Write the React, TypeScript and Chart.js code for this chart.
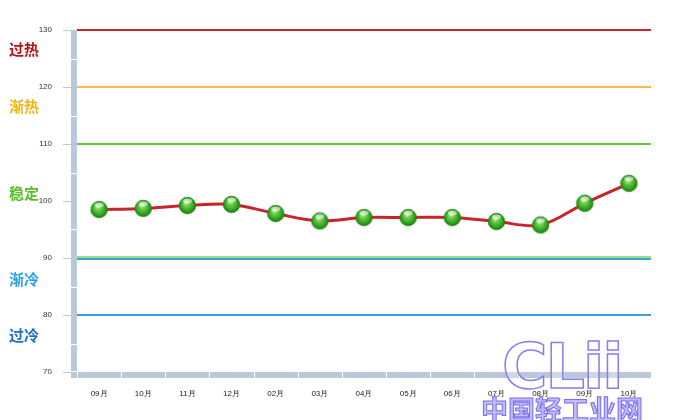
import React, { useEffect, useRef } from "react";
import { Chart, registerables } from "chart.js";

Chart.register(...registerables);

const categories = ["09月", "10月", "11月", "12月", "02月", "03月", "04月", "05月", "06月", "07月", "08月", "09月", "10月"];
const values = [98.5, 98.7, 99.2, 99.4, 97.8, 96.5, 97.1, 97.1, 97.1, 96.4, 95.8, 99.6, 103.1];

const yMin = 70;
const yMax = 130;
const yStep = 10;
const wallStep = 5;

const thresholdValues = [130, 120, 110, 90, 90, 80];
const thresholdColors = ["#c8242b", "#ffb64a", "#62c832", "#a0dc7c", "#36a8e0", "#3d9be0"];

const bandLabels = ["过热", "渐热", "稳定", "渐冷", "过冷"];
const bandLabelValues = [126.6, 116.6, 101.4, 86.2, 76.4];
const bandLabelColors = ["#b3141c", "#f5b50a", "#5cbc2c", "#26a2e4", "#1f6fc4"];

const WALL = "#b9c9d9";

function makeSphere(): HTMLCanvasElement {
  const c = document.createElement("canvas");
  const s = 19;
  c.width = s;
  c.height = s;
  const ctx = c.getContext("2d")!;
  const r = 8.3;
  const cx = s / 2;
  const cy = s / 2;
  const g = ctx.createRadialGradient(cx - 1.5, cy - 3.5, 0.5, cx, cy, r);
  g.addColorStop(0, "#d8f7c0");
  g.addColorStop(0.3, "#6fd04c");
  g.addColorStop(0.75, "#33a322");
  g.addColorStop(1, "#1d7a12");
  ctx.beginPath();
  ctx.arc(cx, cy, r, 0, Math.PI * 2);
  ctx.fillStyle = g;
  ctx.fill();
  ctx.lineWidth = 0.8;
  ctx.strokeStyle = "#2a8a1c";
  ctx.stroke();
  ctx.beginPath();
  ctx.ellipse(cx, cy - 4.5, 4.5, 2.4, 0, 0, Math.PI * 2);
  ctx.fillStyle = "rgba(255,255,255,0.55)";
  ctx.fill();
  return c;
}

const decorPlugin = {
  id: "decor",
  beforeDatasetsDraw(chart: any) {
    const { ctx, chartArea } = chart;
    const ys = chart.scales.y;
    const xs = chart.scales.x;
    const { left, right, top, bottom } = chartArea;
    const depth = 6;
    ctx.save();
    ctx.fillStyle = WALL;
    ctx.fillRect(left - depth, top, depth, bottom - top + depth);
    ctx.fillRect(left - depth, bottom, right - left + depth, depth);
    ctx.strokeStyle = WALL;
    ctx.lineWidth = 1;
    for (let v = yMin; v <= yMax; v += yStep) {
      const y = Math.round(ys.getPixelForValue(v)) + 0.5;
      ctx.beginPath();
      ctx.moveTo(left - depth - 8, y);
      ctx.lineTo(left - depth, y);
      ctx.stroke();
    }
    ctx.strokeStyle = "#ffffff";
    for (let v = yMin + wallStep; v < yMax; v += yStep) {
      const y = Math.round(ys.getPixelForValue(v)) + 0.5;
      ctx.beginPath();
      ctx.moveTo(left - depth, y);
      ctx.lineTo(left, y);
      ctx.stroke();
    }
    const n = categories.length;
    const xsep: number[] = [left];
    for (let i = 1; i < n; i++) {
      xsep.push((xs.getPixelForValue(i - 1) + xs.getPixelForValue(i)) / 2);
    }
    xsep.forEach((x) => {
      const px = Math.round(x) + 0.5;
      ctx.beginPath();
      ctx.moveTo(px, bottom);
      ctx.lineTo(px, bottom + depth);
      ctx.stroke();
    });
    ctx.beginPath();
    ctx.moveTo(left - depth, Math.round(bottom) - 0.5);
    ctx.lineTo(left, Math.round(bottom) - 0.5);
    ctx.stroke();
    const seen: Record<number, number> = {};
    thresholdValues.forEach((v, i) => {
      const k = seen[v] || 0;
      seen[v] = k + 1;
      const dup = thresholdValues.filter((t) => t === v).length > 1;
      const y = Math.round(ys.getPixelForValue(v)) + (k === 0 ? 0 : 2) - (dup ? 1 : 0);
      ctx.strokeStyle = thresholdColors[i];
      ctx.lineWidth = 2;
      ctx.beginPath();
      ctx.moveTo(left, y);
      ctx.lineTo(right, y);
      ctx.stroke();
    });
    ctx.font = "bold 15px 'Noto Sans CJK SC', sans-serif";
    ctx.textAlign = "left";
    ctx.textBaseline = "middle";
    bandLabels.forEach((t, i) => {
      ctx.fillStyle = bandLabelColors[i];
      ctx.fillText(t, 9, ys.getPixelForValue(bandLabelValues[i]));
    });
    ctx.restore();
  },
};

export default function App() {
  const ref = useRef<HTMLCanvasElement | null>(null);
  useEffect(() => {
    document.body.style.margin = "0";
    const sphere = makeSphere();
    const chart = new Chart(ref.current!, {
      type: "line",
      data: {
        labels: categories,
        datasets: [
          {
            data: values,
            borderColor: "#c8242b",
            borderWidth: 3,
            tension: 0.35,
            pointStyle: sphere as any,
            pointRadius: 9,
            pointHoverRadius: 9,
            fill: false,
          },
        ],
      },
      options: {
        animation: false,
        responsive: false,
        layout: { padding: { top: 30, right: 26, left: 0, bottom: 0 } },
        plugins: { legend: { display: false }, tooltip: { enabled: false } },
        scales: {
          x: {
            offset: true,
            grid: { display: false, drawTicks: false },
            border: { display: false },
            ticks: { color: "#222", font: { size: 8, family: "'Liberation Sans', Arial, sans-serif" }, padding: 17, maxRotation: 0, autoSkip: false },
            afterFit: (s: any) => {
              s.height = 48;
            },
          },
          y: {
            min: yMin,
            max: yMax,
            grid: { display: false, drawTicks: false },
            border: { display: false },
            ticks: { stepSize: yStep, color: "#333", font: { size: 8, family: "'Liberation Sans', Arial, sans-serif" }, padding: 25 },
            afterFit: (s: any) => {
              s.width = 77;
            },
          },
        },
      },
      plugins: [decorPlugin],
    });
    return () => chart.destroy();
  }, []);
  return (
    <div style={{ position: "absolute", left: 0, top: 0, width: 677, height: 420, overflow: "hidden", background: "#fff" }}>
      <canvas ref={ref} width={677} height={420} />
      <div
        style={{
          position: "absolute",
          left: 502,
          top: 336,
          fontFamily: "'DejaVu Sans', sans-serif",
          fontWeight: "bold",
          fontSize: 62,
          lineHeight: "62px",
          color: "rgba(255,255,255,0.3)",
          WebkitTextStroke: "1.5px #8a7cf0",
          letterSpacing: "-2px",
          pointerEvents: "none",
        }}
      >
        CLii
      </div>
      <div
        style={{
          position: "absolute",
          left: 481,
          top: 394,
          fontFamily: "'Noto Sans CJK SC', sans-serif",
          fontWeight: "bold",
          fontSize: 27,
          lineHeight: "30px",
          color: "rgba(170,160,248,0.7)",
          WebkitTextStroke: "1px #7a6cf0",
          whiteSpace: "nowrap",
          pointerEvents: "none",
        }}
      >
        中国轻工业网
      </div>
    </div>
  );
}
